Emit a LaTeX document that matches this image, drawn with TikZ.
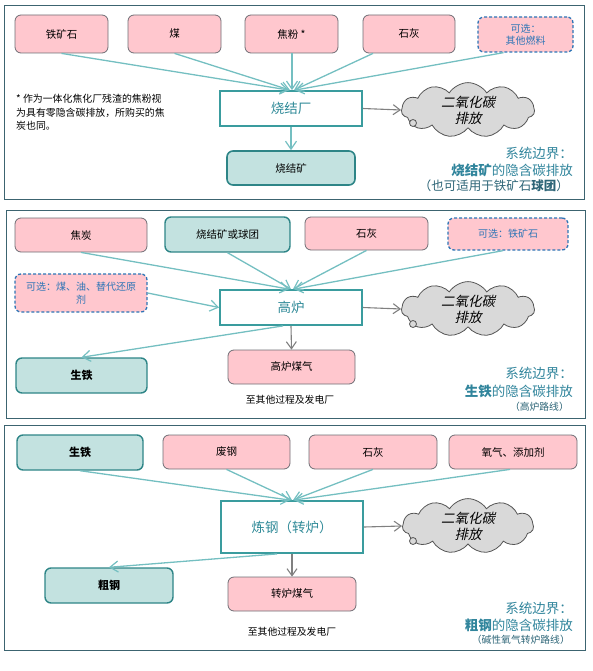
\documentclass[tikz,border=0pt]{standalone}
\usepackage{fontspec}
\setmainfont{Noto Sans CJK SC}
\newfontfamily\cloudfont[FakeSlant=0.22]{Noto Sans CJK SC}
\usetikzlibrary{arrows.meta,shapes.symbols,calc}
\definecolor{pinkfill}{HTML}{FFC7CE}
\definecolor{pinkdraw}{HTML}{6E6E75}
\definecolor{tealfill}{HTML}{C3E2E0}
\definecolor{tealdraw}{HTML}{2E8587}
\definecolor{procdraw}{HTML}{3A9C9E}
\definecolor{proctext}{HTML}{2F8A98}
\definecolor{arrteal}{HTML}{74BFC1}
\definecolor{optblue}{HTML}{2E75B6}
\definecolor{framecol}{HTML}{3C6470}
\definecolor{cloudfill}{HTML}{D9D9D9}
\definecolor{clouddraw}{HTML}{555555}
\definecolor{bndtext}{HTML}{31859C}
\definecolor{bnddark}{HTML}{2D6577}
\tikzset{
  panel/.style={draw=framecol, line width=0.8pt},
  pinkbox/.style={draw=pinkdraw, fill=pinkfill, rounded corners=6pt, line width=0.8pt,
    font=\fontsize{10.5}{12}\selectfont, align=center, inner sep=1pt},
  tealbox/.style={draw=tealdraw, fill=tealfill, rounded corners=6pt, line width=1.4pt,
    font=\fontsize{10.5}{12}\selectfont, align=center, inner sep=1pt},
  optbox/.style={draw=optblue, dashed, dash pattern=on 3pt off 2pt, fill=pinkfill, rounded corners=6pt, line width=1.3pt,
    text=optblue, font=\fontsize{10}{12.5}\selectfont, align=center, inner sep=1pt},
  procbox/.style={draw=procdraw, fill=white, line width=1.8pt, text=proctext,
    font=\fontsize{13.5}{15}\selectfont, align=center, inner sep=1pt},
  co2cloud/.style={cloud, cloud puffs=11, cloud puff arc=115, aspect=2.6, draw=clouddraw, fill=cloudfill,
    line width=0.8pt, font=\cloudfont\fontsize{13.5}{16}\selectfont, align=center, inner sep=0pt},
  arr/.style={draw=arrteal, line width=1.3pt, -{Straight Barb[length=8pt,width=11pt,line width=1.2pt]}},
  garr/.style={draw=gray, line width=1.1pt, -{Straight Barb[length=7pt,width=10pt,line width=1.1pt]}},
  note/.style={font=\fontsize{9.9}{13.5}\selectfont, align=left, inner sep=0pt},
  smalltext/.style={font=\fontsize{9.8}{12}\selectfont, inner sep=0pt},
  bnd/.style={text=bndtext, font=\fontsize{13.5}{15}\selectfont, inner sep=0pt, anchor=east},
  bndsub/.style={text=bnddark, inner sep=0pt, anchor=east},
}
\begin{document}
\begin{tikzpicture}[x=1pt,y=-1pt]
\useasboundingbox (0,0) rectangle (592,671);
% ---------- panels
\draw[panel] (4,5) rectangle (584,199);
\draw[panel] (6,210) rectangle (585,418);
\draw[panel] (4,425) rectangle (585,650);

% ================= Panel 1
\node[pinkbox, minimum width=93pt, minimum height=38pt] (ore1) at (61.5,34) {铁矿石};
\node[pinkbox, minimum width=93pt, minimum height=38pt] (coal1) at (174.5,34) {煤};
\node[pinkbox, minimum width=93pt, minimum height=38pt] (coke1) at (291.5,34) {焦粉 *};
\node[pinkbox, minimum width=92pt, minimum height=38pt] (lime1) at (409,34) {石灰};
\node[optbox, minimum width=95pt, minimum height=35pt] (opt1) at (525.5,34.5) {可选：\\其他燃料};
\node[procbox, minimum width=142pt, minimum height=35pt] (sinter) at (291,108.5) {烧结厂};
\node[tealbox, line width=1.6pt, minimum width=128pt, minimum height=34pt] (sinterout) at (291,168) {烧结矿};
\node[co2cloud, minimum width=133pt, minimum height=46pt] (cloud1) at (468,110) {二氧化碳\\排放};
\draw[draw=clouddraw, fill=cloudfill, line width=0.8pt] ($(cloud1.center)+(-55,13)$) circle (3.5pt);

\node[note, anchor=north west] (fn) at (16,94) {* 作为一体化焦化厂残渣的焦粉视\\为具有零隐含碳排放，所购买的焦\\炭也同。};

\draw[arr] (ore1.south) -- ($(sinter.north)+(-2,0)$);
\draw[arr] (coal1.south) -- ($(sinter.north)+(-1,0)$);
\draw[arr] ($(coke1.south)+(0.5,0)$) -- ($(sinter.north)+(1,0)$);
\draw[arr] ($(lime1.south)+(-36,0)$) -- ($(sinter.north)+(3,0)$);
\draw[arr] ($(opt1.south)+(-22,0)$) -- ($(sinter.north)+(4,0)$);
\draw[arr] (sinter.south) -- (sinterout.north);
\draw[garr] (sinter.east) -- (cloud1.west);

\node[bnd] (b1a) at (573,153) {系统边界：};
\node[bnd] (b1b) at (573,170) {\textbf{烧结矿}的隐含碳排放};
\node[bndsub, font=\fontsize{12.5}{14}\selectfont] (b1c) at (569,186) {（也可适用于铁矿石\textbf{球团}）};

% ================= Panel 2
\node[pinkbox, minimum width=132pt, minimum height=34pt] (coke2) at (81,235) {焦炭};
\node[tealbox, minimum width=125pt, minimum height=35pt] (sinter2) at (227.5,234.5) {烧结矿或球团};
\node[pinkbox, minimum width=123pt, minimum height=33pt] (lime2) at (366.5,233.5) {石灰};
\node[optbox, minimum width=120pt, minimum height=32pt] (opt2) at (508,234) {可选：铁矿石};
\node[optbox, minimum width=132pt, minimum height=38pt] (opt3) at (81,293) {可选：煤、油、替代还原\\剂};
\node[procbox, minimum width=142pt, minimum height=35pt] (bf) at (291,307.5) {高炉};
\node[tealbox, minimum width=131pt, minimum height=35pt, font=\bfseries\fontsize{11}{12}\selectfont] (pig2) at (81.5,375.5) {生铁};
\node[pinkbox, minimum width=127pt, minimum height=34pt] (bfg) at (291.5,367) {高炉煤气};
\node[smalltext] (other2) at (290,400) {至其他过程及发电厂};
\node[co2cloud, minimum width=133pt, minimum height=50pt] (cloud2) at (468,309) {二氧化碳\\排放};
\draw[draw=clouddraw, fill=cloudfill, line width=0.8pt] ($(cloud2.center)+(-55,15)$) circle (3.5pt);

\draw[arr] (coke2.south) -- ($(bf.north)+(-2,0)$);
\draw[arr] (sinter2.south) -- ($(bf.north)+(0,0)$);
\draw[arr] (lime2.south) -- ($(bf.north)+(2,0)$);
\draw[arr] ($(opt2.south)+(-5,0)$) -- ($(bf.north)+(3,0)$);
\draw[arr] (opt3.east) -- (bf.west);
\draw[arr] ($(bf.south)+(-8,0)$) -- (pig2.north);
\draw[garr] (bf.south) -- (bfg.north);
\draw[garr] (bf.east) -- (cloud2.west);

\node[bnd] (b2a) at (573,373) {系统边界：};
\node[bnd] (b2b) at (573,391) {\textbf{生铁}的隐含碳排放};
\node[bndsub, font=\fontsize{9.8}{11}\selectfont] (b2c) at (569,407) {（高炉路线）};

% ================= Panel 3
\node[tealbox, minimum width=126pt, minimum height=35pt, font=\bfseries\fontsize{11}{12}\selectfont] (pig3) at (80,452.5) {生铁};
\node[pinkbox, minimum width=127pt, minimum height=34pt] (scrap) at (226.5,452) {废钢};
\node[pinkbox, minimum width=128pt, minimum height=34pt] (lime3) at (373,452) {石灰};
\node[pinkbox, minimum width=128pt, minimum height=34pt] (oxy) at (513,452) {氧气、添加剂};
\node[procbox, minimum width=142pt, minimum height=52pt] (bof) at (292,527) {炼钢（转炉）};
\node[tealbox, minimum width=128pt, minimum height=35pt, font=\bfseries\fontsize{11}{12}\selectfont] (crude) at (109,585.5) {粗钢};
\node[pinkbox, minimum width=128pt, minimum height=34pt] (bofg) at (292,594) {转炉煤气};
\node[smalltext] (other3) at (292,632) {至其他过程及发电厂};
\node[co2cloud, minimum width=131pt, minimum height=50pt] (cloud3) at (468,526) {二氧化碳\\排放};
\draw[draw=clouddraw, fill=cloudfill, line width=0.8pt] ($(cloud3.center)+(-55,15)$) circle (3.5pt);

\draw[arr] (pig3.south) -- ($(bof.north)+(-2,0)$);
\draw[arr] (scrap.south) -- ($(bof.north)+(0,0)$);
\draw[arr] (lime3.south) -- ($(bof.north)+(1,0)$);
\draw[arr] ($(oxy.south)+(-3,0)$) -- ($(bof.north)+(2,0)$);
\draw[arr] ($(bof.south)+(-15,0)$) -- (crude.north);
\draw[garr] (bof.south) -- (bofg.north);
\draw[garr] (bof.east) -- (cloud3.west);

\node[bnd] (b3a) at (573,608) {系统边界：};
\node[bnd] (b3b) at (573,625) {\textbf{粗钢}的隐含碳排放};
\node[bndsub, font=\fontsize{9.8}{11}\selectfont] (b3c) at (570,640) {（碱性氧气转炉路线）};
\end{tikzpicture}
\end{document}
